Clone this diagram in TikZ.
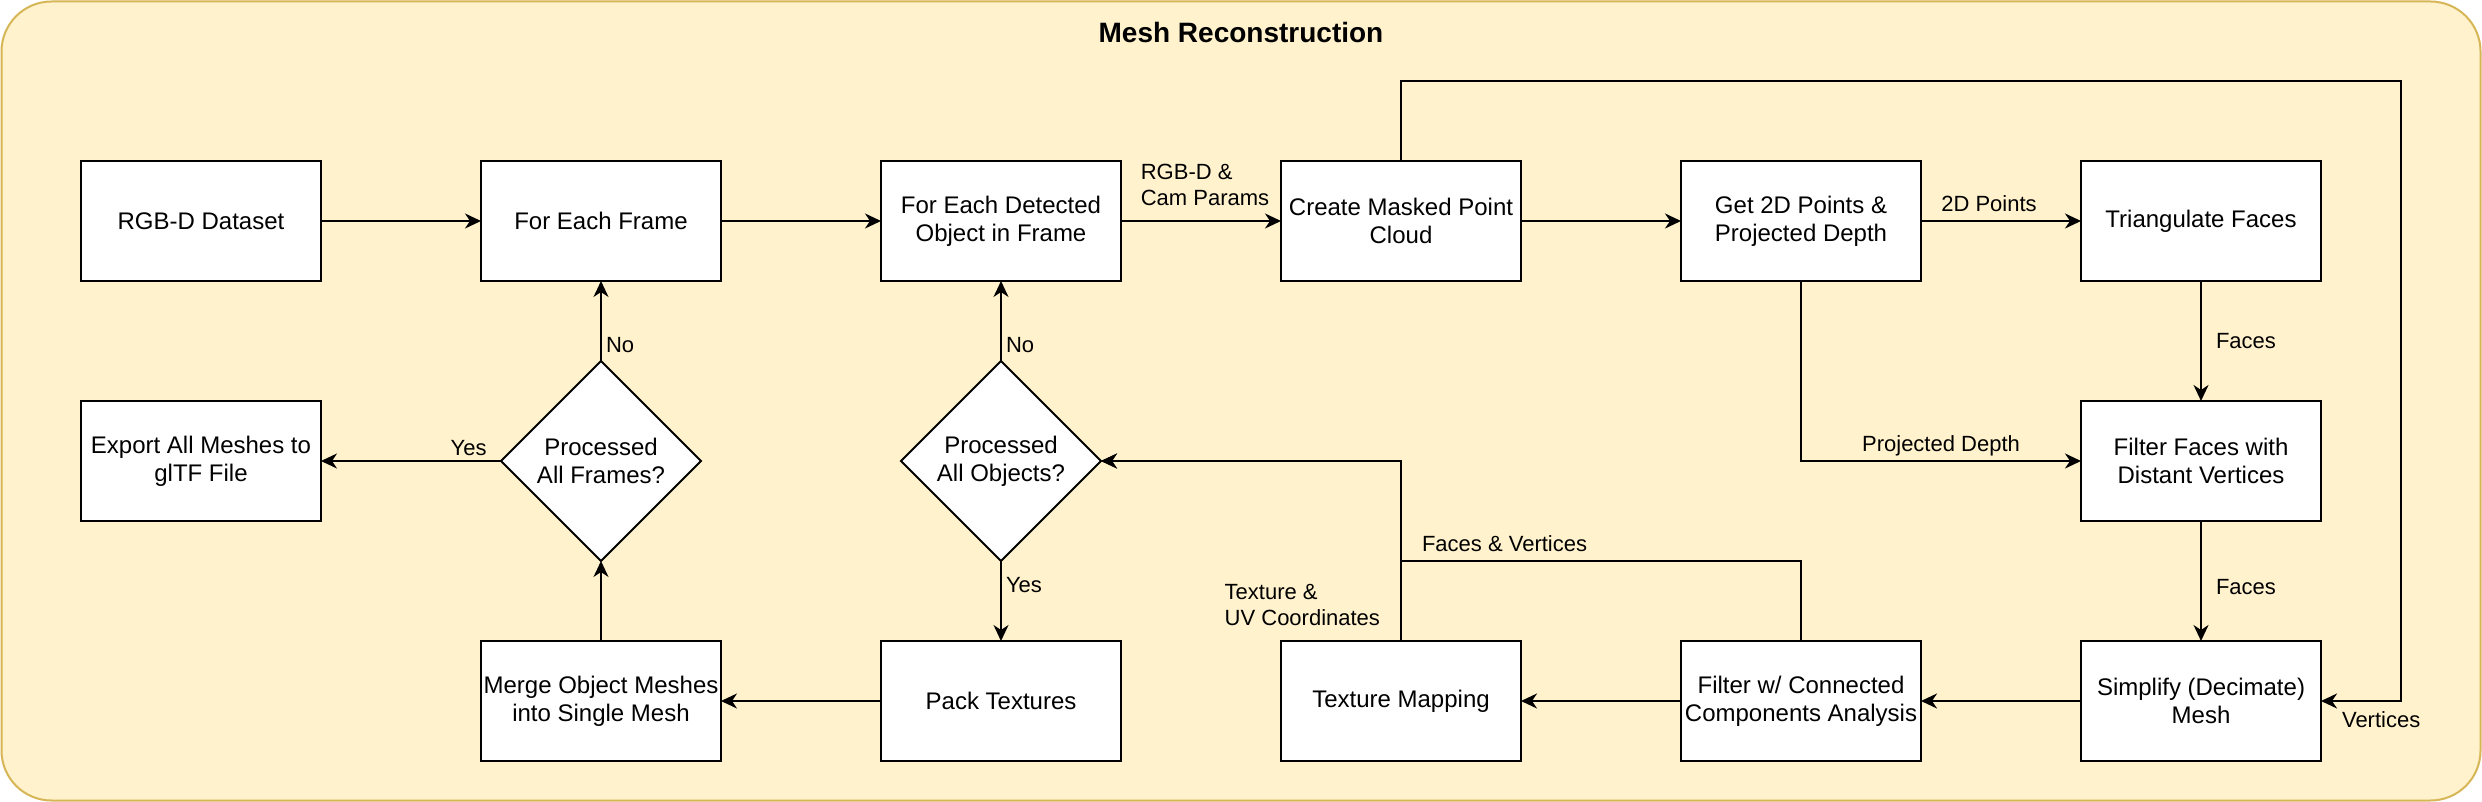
\documentclass[tikz,border=0pt]{standalone}
\usepackage{fontspec}
\setmainfont{Liberation Sans}
\usetikzlibrary{shapes.geometric,arrows.meta,positioning,calc}
\definecolor{panelfill}{HTML}{FFF2CC}
\definecolor{paneldraw}{HTML}{D6B656}
\def\boxwidth{120pt}
\def\boxheight{60pt}
\def\colgap{80pt}
\def\rowgap{40pt}
\def\loopmargin{40}

\begin{document}
\begin{tikzpicture}[x=1pt,y=-1pt,
  stepbox/.style={draw,fill=white,line width=1pt,minimum width=\boxwidth,minimum height=\boxheight,inner sep=1pt,outer sep=0pt,align=center,font=\fontsize{12}{14}\selectfont},
  decision/.style={diamond,draw,fill=white,line width=1pt,minimum width=100pt,minimum height=100pt,inner sep=0pt,outer sep=0pt,align=center,font=\fontsize{12}{14}\selectfont},
  flow/.style={line width=1pt,-{Stealth[length=8pt,width=7.5pt,inset=2.5pt]}},
  lbl/.style={font=\fontsize{11}{13}\selectfont,inner sep=2pt,align=left}]

  \useasboundingbox (0,0) rectangle (1241,401);
  \draw[rounded corners=25pt,fill=panelfill,draw=paneldraw,line width=1pt] (0.75,0.75) rectangle (1240.25,400.25);
  \node[font=\bfseries\fontsize{14}{16}\selectfont] (title) at (620.5,16) {Mesh Reconstruction};

  \node[stepbox] (RGBD) at (100.5,110.5) {RGB-D Dataset};
  \node[stepbox,right=\colgap of RGBD] (FEF) {For Each Frame};
  \node[stepbox,right=\colgap of FEF] (FEO) {For Each Detected\\Object in Frame};
  \node[stepbox,right=\colgap of FEO] (CMPC) {Create Masked Point\\Cloud};
  \node[stepbox,right=\colgap of CMPC] (G2D) {Get 2D Points \&\\Projected Depth};
  \node[stepbox,right=\colgap of G2D] (TF) {Triangulate Faces};

  \node[stepbox,below=60pt of RGBD] (EXP) {Export All Meshes to\\glTF File};
  \node[decision,below=\rowgap of FEF] (PAF) {Processed\\All Frames?};
  \node[decision,below=\rowgap of FEO] (PAO) {Processed\\All Objects?};
  \node[stepbox,below=60pt of TF] (FFDV) {Filter Faces with\\Distant Vertices};

  \node[stepbox,below=\rowgap of PAF] (MERGE) {Merge Object Meshes\\into Single Mesh};
  \node[stepbox,below=\rowgap of PAO] (PACK) {Pack Textures};
  \node[stepbox,below=60pt of FFDV] (SIMP) {Simplify (Decimate)\\Mesh};
  \node[stepbox,left=\colgap of SIMP] (FCCA) {Filter w/ Connected\\Components Analysis};
  \node[stepbox,left=\colgap of FCCA] (TM) {Texture Mapping};

  \coordinate (VTop) at ($(CMPC.north)+(0,-\loopmargin)$);
  \coordinate (VRight) at ($(SIMP.east)+(\loopmargin,0)$);
  \coordinate (FVJoin) at ($(TM.north)+(0,-\loopmargin)$);

  \draw[flow] (RGBD) -- (FEF);
  \draw[flow] (FEF) -- (FEO);
  \draw[flow] (FEO) -- node[lbl,above,xshift=2pt,yshift=5pt] {RGB-D \&\\Cam Params} (CMPC);
  \draw[flow] (CMPC) -- (G2D);
  \draw[flow] (G2D) -- node[lbl,above,xshift=-6pt,yshift=2pt] {2D Points} (TF);
  \draw[flow] (TF) -- node[lbl,right,xshift=5pt] {Faces} (FFDV);
  \draw[flow] (FFDV) -- node[lbl,right,xshift=5pt,pos=0.55] {Faces} (SIMP);
  \draw[flow] (G2D.south) |- node[lbl,above,pos=0.75] {Projected Depth} (FFDV.west);
  \draw[flow] (CMPC.north) -- (VTop) -| (VRight) -- node[lbl,pos=1,anchor=north west,xshift=8pt,yshift=-3pt] {Vertices} (SIMP.east);

  \draw[flow] (SIMP) -- (FCCA);
  \draw[flow] (FCCA) -- (TM);
  \draw[flow] (FCCA.north) |- node[lbl,pos=1,anchor=south west,xshift=8pt,yshift=2pt] {Faces \& Vertices} (FVJoin) -- (TM.north |- PAO.east) -- (PAO.east);
  \draw[flow] (TM.north) -- node[lbl,pos=0.2,anchor=east,xshift=-8pt] {Texture \&\\UV Coordinates} (TM.north |- PAO.east) -- (PAO.east);

  \draw[flow] (PAO) -- node[lbl,right,pos=0.2] {No} (FEO);
  \draw[flow] (PAO) -- node[lbl,right,pos=0.3] {Yes} (PACK);
  \draw[flow] (PACK) -- (MERGE);
  \draw[flow] (MERGE) -- (PAF);
  \draw[flow] (PAF) -- node[lbl,right,pos=0.2] {No} (FEF);
  \draw[flow] (PAF) -- node[lbl,above,pos=0.18] {Yes} (EXP);

\end{tikzpicture}
\end{document}
